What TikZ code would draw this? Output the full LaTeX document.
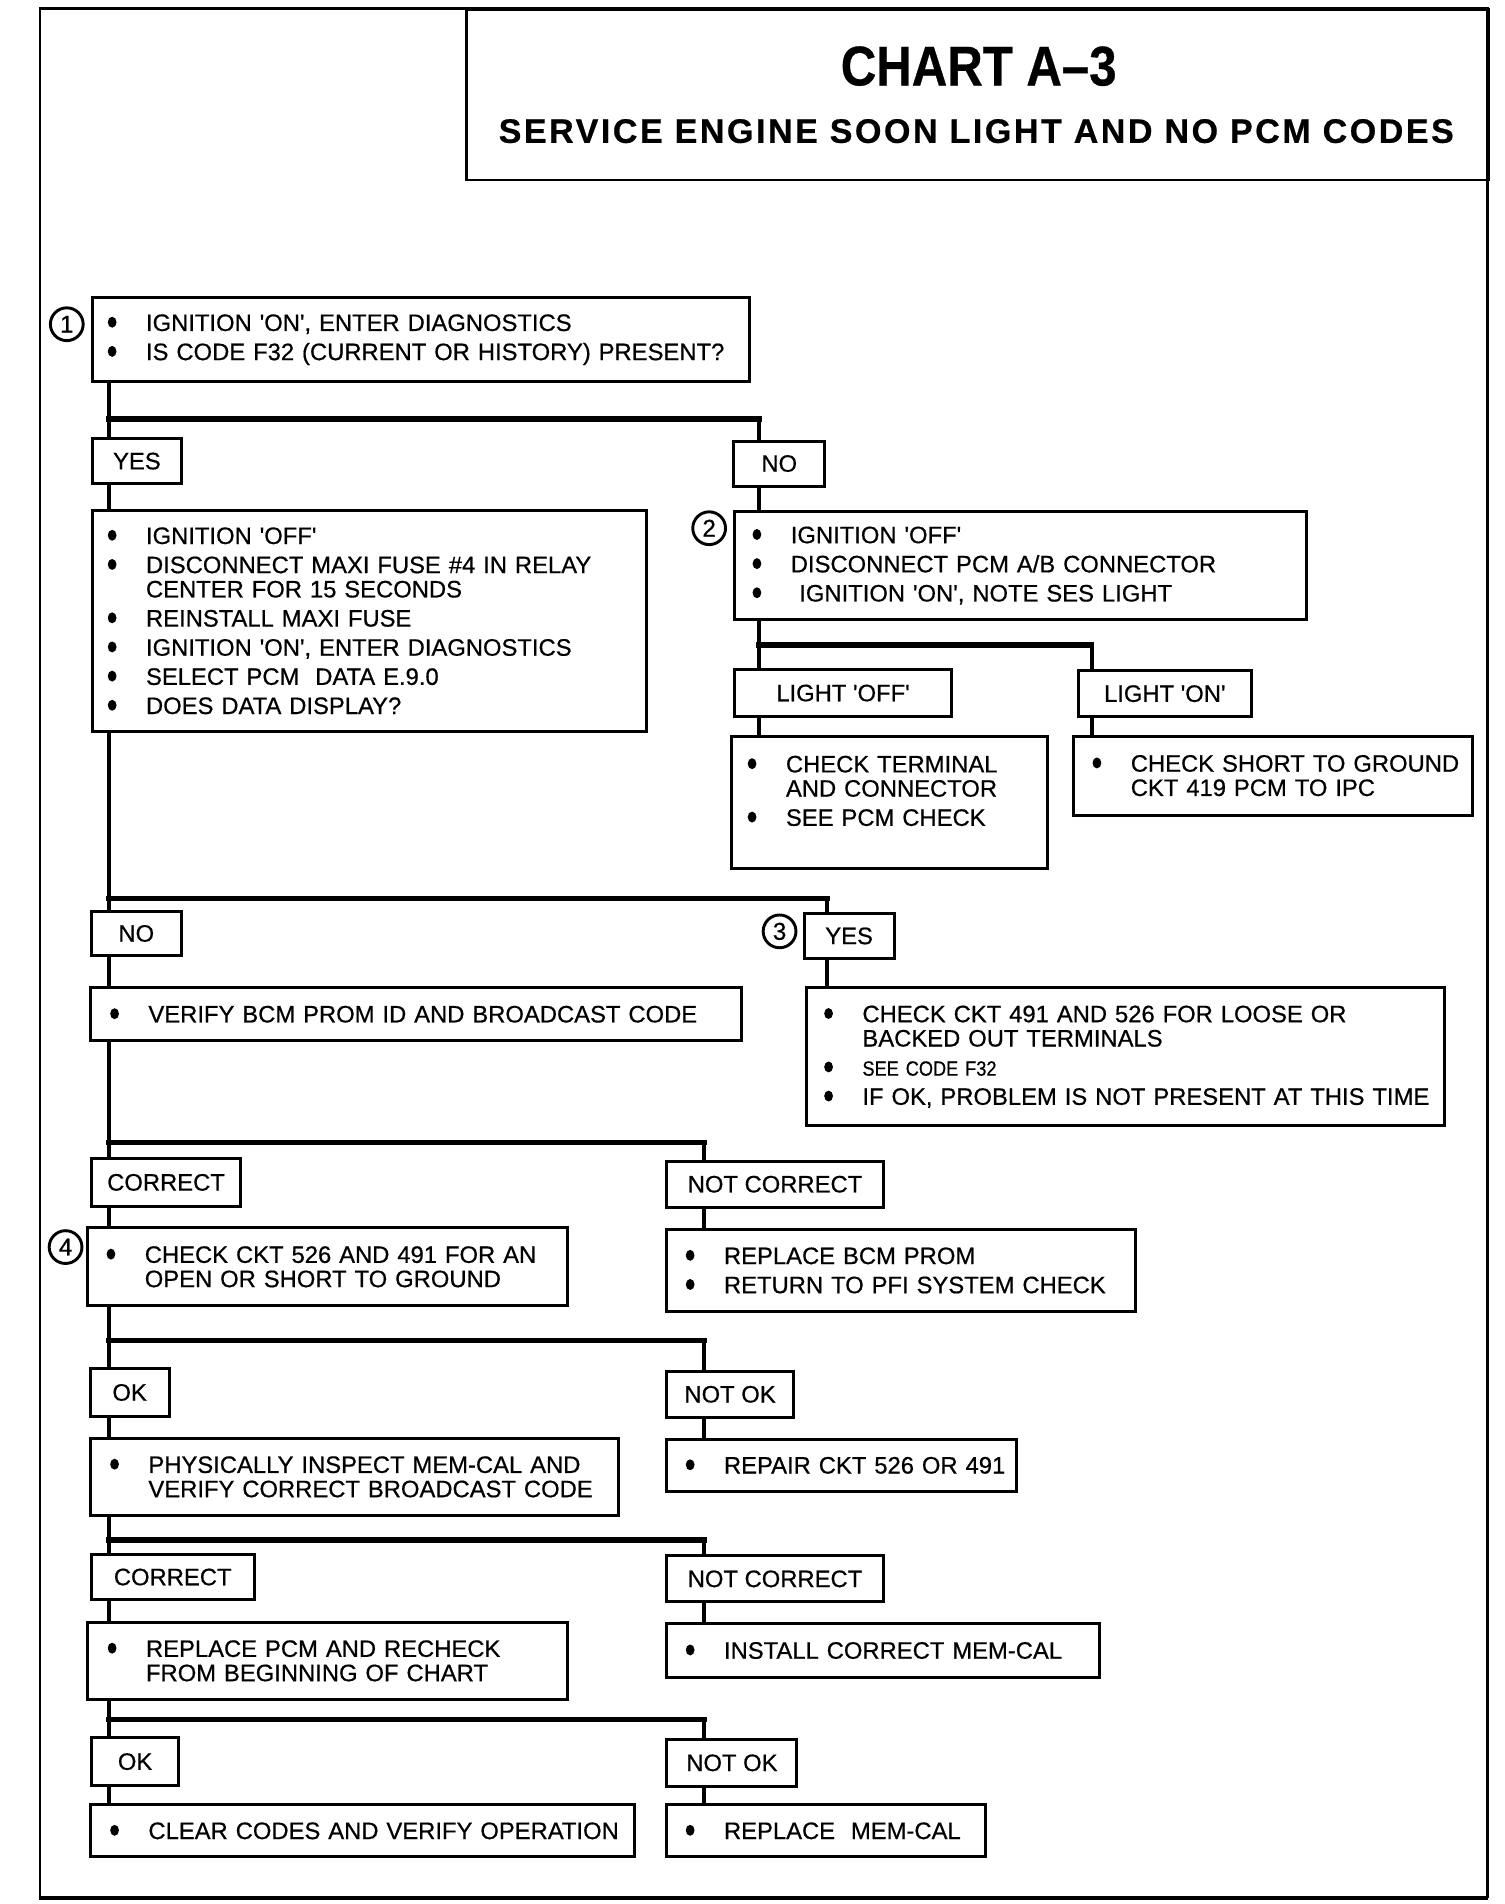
\documentclass[tikz,border=0pt]{standalone}
\usepackage{fontspec}
\setmainfont{Liberation Sans}[Ligatures=TeXOff, FakeBold=0.6]
\usepackage{graphicx}
\newcommand\bdot{\tikz[baseline=0pt]\fill (1.9pt,3.6pt) ellipse [x radius=1.8pt, y radius=2.25pt];}
\newcommand\bul{\makebox[15.75pt][l]{\bdot}}
\newcommand\bitem[1]{\bul\mbox{#1}}
\newcommand\bcont[1]{\hspace*{15.75pt}\mbox{#1}}
\tikzset{
  txtbox/.style n args={4}{draw, line width=1.25pt, anchor=north west, inner ysep=0pt,
     inner xsep=#3, minimum width=#1, minimum height=#2, text width=#4, align=left,
     font=\fontsize{9.8}{10}\selectfont},
  lblbox/.style 2 args={draw, line width=1.25pt, anchor=north west, inner sep=0pt,
     minimum width=#1, minimum height=#2, font=\fontsize{9.8}{10}\selectfont},
  num/.style={draw, circle, line width=1.2pt, minimum size=13.5pt, inner sep=0pt,
     font=\fontsize{10}{10}\selectfont},
  link/.style={line width=1.7pt},
  bar/.style={line width=2.3pt, line cap=rect},
}
\begin{document}
\begin{tikzpicture}[x=0.5pt, y=-0.5pt]
\useasboundingbox (0,0) rectangle (1239,1568);
% frame
\draw[line width=1pt] (33,1563) -- (33,7) -- (1225,7) -- (1225,1563);
\draw[line width=1.5pt] (32.5,1563) -- (1225.5,1563);
% title
\node[draw, line width=1.1pt, anchor=north west, minimum width=421pt, minimum height=70pt, inner sep=0pt] (tbox) at (383,7) {};
\node[font=\bfseries\fontsize{23}{23}\selectfont, inner sep=0pt] (t1) at (806,54.5) {\scalebox{0.88}[1]{CHART A–3}};
\node[font=\bfseries\fontsize{14}{14}\selectfont\addfontfeatures{LetterSpace=7.5}, inner sep=0pt] (t2) at (804,108) {SERVICE ENGINE SOON LIGHT AND NO PCM CODES};

% coordinates
\coordinate (trunk) at (90,0);
\coordinate (ra) at (625,0);
\coordinate (rb) at (899,0);
\coordinate (rc) at (681,0);
\coordinate (rd) at (580,0);
\coordinate (j1) at (90,345);
\coordinate (j2) at (625,531);
\coordinate (j3) at (90,740);
\coordinate (j4) at (90,941);
\coordinate (j5) at (90,1104);
\coordinate (j6) at (90,1268);
\coordinate (j7) at (90,1416);

% boxes
\node[txtbox={270.5pt}{34.5pt}{6.25pt}{258pt}] (b1) at (75,244)
  {\bitem{IGNITION 'ON', ENTER DIAGNOSTICS}\\[2pt]
   \bitem{IS CODE F32 (CURRENT OR HISTORY) PRESENT?}};
\node[num] (c1) at (55,267) {1};

\node[lblbox={36.5pt}{18.5pt}] (yes1) at (75,360) {YES};
\node[lblbox={37.5pt}{18.5pt}] (no1) at (603,362) {NO};

\node[txtbox={228pt}{91pt}{6.25pt}{215.5pt}] (b2) at (75,419)
  {\bitem{IGNITION 'OFF'}\\[2pt]
   \bitem{DISCONNECT MAXI FUSE \#4 IN RELAY}\\
   \bcont{CENTER FOR 15 SECONDS}\\[2pt]
   \bitem{REINSTALL MAXI FUSE}\\[2pt]
   \bitem{IGNITION 'ON', ENTER DIAGNOSTICS}\\[2pt]
   \bitem{SELECT PCM\ \ DATA E.9.0}\\[2pt]
   \bitem{DOES DATA DISPLAY?}};

\node[txtbox={235.5pt}{44.5pt}{7.25pt}{221pt}] (b3) at (604,420)
  {\bitem{IGNITION 'OFF'}\\[2pt]
   \bitem{DISCONNECT PCM A/B CONNECTOR}\\[2pt]
   \bitem{\hspace{3.5pt}IGNITION 'ON', NOTE SES LIGHT}};
\node[num] (c2) at (584,435) {2};

\node[lblbox={89pt}{19.5pt}] (loff) at (604,550) {LIGHT 'OFF'};
\node[lblbox={71pt}{19pt}] (lon) at (887,551) {LIGHT 'ON'};

\node[txtbox={130pt}{54.5pt}{6.75pt}{116.5pt}] (b4) at (601,605)
  {\bitem{CHECK TERMINAL}\\
   \bcont{AND CONNECTOR}\\[2pt]
   \bitem{SEE PCM CHECK}\rule[-9.5pt]{0pt}{0pt}};
\node[txtbox={164pt}{32.5pt}{7.75pt}{148.5pt}] (b5) at (883,605)
  {\bitem{CHECK SHORT TO GROUND}\\
   \bcont{CKT 419 PCM TO IPC}};

\node[lblbox={37pt}{18.5pt}] (no2) at (74,749) {NO};
\node[lblbox={37pt}{18.5pt}] (yes2) at (661,751) {YES};
\node[num] (c3) at (642,767) {3};

\node[txtbox={268pt}{22pt}{8.25pt}{251.5pt}] (b7) at (73,812)
  {\bitem{VERIFY BCM PROM ID AND BROADCAST CODE}};
\node[txtbox={262.5pt}{57pt}{7.25pt}{248pt}] (b8) at (663,812)
  {\bitem{CHECK CKT 491 AND 526 FOR LOOSE OR}\\
   \bcont{BACKED OUT TERMINALS}\\[2pt]
   \bitem{\scalebox{0.88}[1]{\fontsize{8.5}{10}\selectfont SEE CODE F32}}\\[2pt]
   \bitem{IF OK, PROBLEM IS NOT PRESENT AT THIS TIME}};

\node[lblbox={61.5pt}{19.5pt}] (cor1) at (74,953) {CORRECT};
\node[lblbox={89pt}{19pt}] (ncor1) at (548,955) {NOT CORRECT};

\node[txtbox={197.5pt}{32pt}{7.75pt}{182pt}] (b9) at (71,1010)
  {\bitem{CHECK CKT 526 AND 491 FOR AN}\\
   \bcont{OPEN OR SHORT TO GROUND}};
\node[num] (c4) at (54,1027) {4};
\node[txtbox={193pt}{34pt}{7.75pt}{177.5pt}] (b10) at (548,1011)
  {\bitem{REPLACE BCM PROM}\\[2pt]
   \bitem{RETURN TO PFI SYSTEM CHECK}};

\node[lblbox={32.5pt}{19.5pt}] (ok1) at (73,1126) {OK};
\node[lblbox={52pt}{19pt}] (nok1) at (548,1128) {NOT OK};

\node[txtbox={217.5pt}{32pt}{8.25pt}{201pt}] (b11) at (73,1183)
  {\bitem{PHYSICALLY INSPECT MEM-CAL AND}\\
   \bcont{VERIFY CORRECT BROADCAST CODE}};
\node[txtbox={144pt}{21.5pt}{7.75pt}{128.5pt}] (b12) at (548,1184)
  {\bitem{REPAIR CKT 526 OR 491}};

\node[lblbox={67pt}{18.5pt}] (cor2) at (74,1279) {CORRECT};
\node[lblbox={89pt}{19pt}] (ncor2) at (548,1280) {NOT CORRECT};

\node[txtbox={197.5pt}{31.5pt}{8.25pt}{181pt}] (b13) at (71,1335)
  {\bitem{REPLACE PCM AND RECHECK}\\
   \bcont{FROM BEGINNING OF CHART}};
\node[txtbox={178pt}{22pt}{7.75pt}{162.5pt}] (b14) at (548,1336)
  {\bitem{INSTALL CORRECT MEM-CAL}};

\node[lblbox={36pt}{19.5pt}] (ok2) at (74,1430) {OK};
\node[lblbox={53.5pt}{19.5pt}] (nok2) at (548,1431) {NOT OK};

\node[txtbox={224pt}{21.5pt}{8.25pt}{207.5pt}] (b15) at (73,1485)
  {\bitem{CLEAR CODES AND VERIFY OPERATION}};
\node[txtbox={131pt}{21.5pt}{7.75pt}{115.5pt}] (b16) at (548,1485)
  {\bitem{REPLACE\ \ MEM-CAL}};

% left trunk
\draw[link] (b1.south -| trunk) -- (yes1.north -| trunk);
\draw[link] (yes1.south -| trunk) -- (b2.north -| trunk);
\draw[link] (b2.south -| trunk) -- (no2.north -| trunk);
\draw[link] (no2.south -| trunk) -- (b7.north -| trunk);
\draw[link] (b7.south -| trunk) -- (cor1.north -| trunk);
\draw[link] (cor1.south -| trunk) -- (b9.north -| trunk);
\draw[link] (b9.south -| trunk) -- (ok1.north -| trunk);
\draw[link] (ok1.south -| trunk) -- (b11.north -| trunk);
\draw[link] (b11.south -| trunk) -- (cor2.north -| trunk);
\draw[link] (cor2.south -| trunk) -- (b13.north -| trunk);
\draw[link] (b13.south -| trunk) -- (ok2.north -| trunk);
\draw[link] (ok2.south -| trunk) -- (b15.north -| trunk);
% right column
\draw[link] (no1.south -| ra) -- (b3.north -| ra);
\draw[link] (b3.south -| ra) -- (loff.north -| ra);
\draw[link] (loff.south -| ra) -- (b4.north -| ra);
\draw[link] (lon.south -| rb) -- (b5.north -| rb);
\draw[link] (yes2.south -| rc) -- (b8.north -| rc);
\draw[link] (ncor1.south -| rd) -- (b10.north -| rd);
\draw[link] (nok1.south -| rd) -- (b12.north -| rd);
\draw[link] (ncor2.south -| rd) -- (b14.north -| rd);
\draw[link] (nok2.south -| rd) -- (b16.north -| rd);
% branches
\draw[bar] (j1) -- (j1 -| ra);  \draw[link] (j1 -| ra) -- (no1.north -| ra);
\draw[bar] (j2) -- (j2 -| rb);  \draw[link] (j2 -| rb) -- (lon.north -| rb);
\draw[bar] (j3) -- (j3 -| rc);  \draw[link] (j3 -| rc) -- (yes2.north -| rc);
\draw[bar] (j4) -- (j4 -| rd);  \draw[link] (j4 -| rd) -- (ncor1.north -| rd);
\draw[bar] (j5) -- (j5 -| rd);  \draw[link] (j5 -| rd) -- (nok1.north -| rd);
\draw[bar] (j6) -- (j6 -| rd);  \draw[link] (j6 -| rd) -- (ncor2.north -| rd);
\draw[bar] (j7) -- (j7 -| rd);  \draw[link] (j7 -| rd) -- (nok2.north -| rd);
\end{tikzpicture}
\end{document}
